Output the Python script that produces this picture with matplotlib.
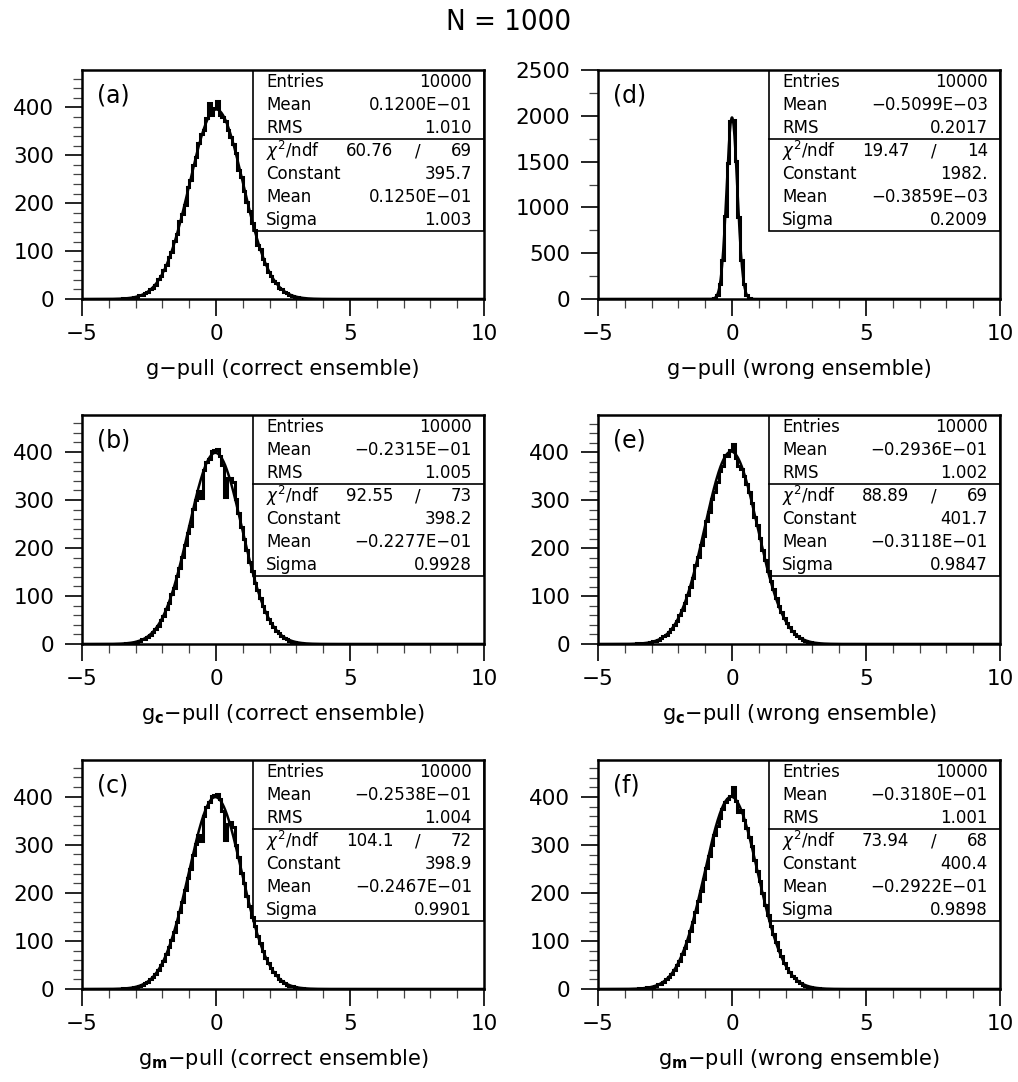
import numpy as np
import matplotlib
matplotlib.use('Agg')
import matplotlib.pyplot as plt
from matplotlib.patches import Rectangle
from matplotlib.ticker import MultipleLocator

plt.rcParams['font.family'] = ['DejaVu Sans']
plt.rcParams['mathtext.fontset'] = 'dejavusans'

# histogram: 150 bins of 0.1 between -5 and 10
x_lo, x_hi, nbins = -5.0, 10.0, 150
MINUS = '\u2212'

# counts for bins -4.0 .. 4.0 (80 bins), everything else is empty
counts_a = [0, 0, 1, 0, 1, 2, 1, 3, 2, 4, 5, 8, 9, 12, 14, 21, 24, 30, 41, 47,
            60, 70, 88, 99, 121, 136, 162, 178, 196, 233, 249, 279, 296, 325, 345, 352, 378, 409, 384, 398,
            413, 385, 380, 371, 352, 338, 324, 304, 270, 255, 226, 203, 183, 158, 143, 113, 104, 84, 74, 57,
            49, 37, 33, 23, 21, 14, 12, 8, 7, 5, 4, 3, 2, 1, 1, 1, 0, 0, 0, 0]
counts_b = [0, 1, 0, 1, 1, 1, 2, 2, 3, 3, 5, 6, 10, 11, 15, 19, 26, 31, 38, 50,
            58, 73, 86, 104, 117, 141, 158, 182, 207, 232, 246, 281, 300, 318, 305, 362, 380, 385, 403, 405,
            407, 392, 372, 306, 345, 346, 338, 302, 272, 243, 219, 196, 170, 152, 128, 112, 96, 79, 66, 53,
            44, 36, 28, 22, 17, 12, 10, 7, 5, 4, 3, 2, 1, 1, 1, 0, 0, 0, 0, 0]
counts_c = [0, 0, 1, 1, 1, 2, 1, 2, 3, 4, 4, 7, 9, 12, 15, 20, 25, 31, 39, 49,
            59, 72, 88, 102, 119, 140, 160, 180, 206, 230, 249, 279, 302, 320, 308, 360, 378, 388, 402, 404,
            405, 394, 370, 310, 343, 348, 336, 300, 274, 242, 220, 194, 172, 150, 130, 110, 95, 80, 65, 54,
            43, 35, 29, 21, 17, 13, 9, 7, 6, 4, 3, 2, 2, 1, 1, 0, 0, 0, 0, 0]
counts_e = [0, 1, 1, 0, 2, 1, 2, 3, 3, 4, 6, 6, 9, 12, 16, 19, 25, 32, 40, 48,
            60, 71, 85, 103, 120, 137, 165, 181, 207, 226, 256, 276, 303, 318, 338, 362, 371, 394, 392, 405,
            418, 388, 372, 366, 351, 335, 318, 294, 266, 248, 222, 197, 175, 153, 132, 114, 97, 80, 67, 55,
            43, 36, 27, 21, 17, 12, 9, 7, 5, 4, 3, 2, 1, 1, 0, 1, 0, 0, 0, 0]
counts_f = [0, 0, 1, 1, 1, 2, 2, 2, 4, 4, 5, 7, 10, 11, 15, 20, 24, 31, 39, 50,
            58, 73, 86, 101, 121, 139, 160, 183, 204, 229, 252, 278, 299, 321, 340, 357, 375, 390, 395, 401,
            420, 392, 368, 372, 352, 336, 316, 297, 269, 246, 224, 199, 176, 154, 131, 115, 98, 81, 68, 54,
            44, 35, 28, 22, 16, 13, 9, 7, 5, 4, 3, 2, 2, 1, 1, 0, 0, 0, 0, 0]
# narrow one: bins -0.8 .. 0.8 (16 bins)
counts_d = [2, 9, 47, 160, 431, 905, 1487, 1948, 1952, 1503, 898, 425, 161, 42, 11, 1]

first_bin = {'a': 10, 'b': 10, 'c': 10, 'd': 42, 'e': 10, 'f': 10}

panels = ['a', 'd', 'b', 'e', 'c', 'f']
panel_counts = {'a': counts_a, 'b': counts_b, 'c': counts_c,
                'd': counts_d, 'e': counts_e, 'f': counts_f}

xlabels = {
    'a': 'g' + MINUS + 'pull (correct ensemble)',
    'd': 'g' + MINUS + 'pull (wrong ensemble)',
    'b': r'g$_\mathbf{c}$' + MINUS + 'pull (correct ensemble)',
    'e': r'g$_\mathbf{c}$' + MINUS + 'pull (wrong ensemble)',
    'c': r'g$_\mathbf{m}$' + MINUS + 'pull (correct ensemble)',
    'f': r'g$_\mathbf{m}$' + MINUS + 'pull (wrong ensemble)',
}

entries = {'a': '10000', 'b': '10000', 'c': '10000', 'd': '10000', 'e': '10000', 'f': '10000'}
mean_txt = {'a': '0.1200E' + MINUS + '01', 'b': MINUS + '0.2315E' + MINUS + '01',
            'c': MINUS + '0.2538E' + MINUS + '01', 'd': MINUS + '0.5099E' + MINUS + '03',
            'e': MINUS + '0.2936E' + MINUS + '01', 'f': MINUS + '0.3180E' + MINUS + '01'}
rms_txt = {'a': '1.010', 'b': '1.005', 'c': '1.004', 'd': '0.2017', 'e': '1.002', 'f': '1.001'}
chi2 = {'a': '60.76', 'b': '92.55', 'c': '104.1', 'd': '19.47', 'e': '88.89', 'f': '73.94'}
ndf = {'a': '69', 'b': '73', 'c': '72', 'd': '14', 'e': '69', 'f': '68'}
const_txt = {'a': '395.7', 'b': '398.2', 'c': '398.9', 'd': '1982.', 'e': '401.7', 'f': '400.4'}
fmean_txt = {'a': '0.1250E' + MINUS + '01', 'b': MINUS + '0.2277E' + MINUS + '01',
             'c': MINUS + '0.2467E' + MINUS + '01', 'd': MINUS + '0.3859E' + MINUS + '03',
             'e': MINUS + '0.3118E' + MINUS + '01', 'f': MINUS + '0.2922E' + MINUS + '01'}
sigma_txt = {'a': '1.003', 'b': '0.9928', 'c': '0.9901', 'd': '0.2009', 'e': '0.9847', 'f': '0.9898'}

# fit parameters (numeric)
fit_const = {'a': 395.7, 'b': 398.2, 'c': 398.9, 'd': 1982.0, 'e': 401.7, 'f': 400.4}
fit_mean = {'a': 0.0125, 'b': -0.02277, 'c': -0.02467, 'd': -0.0003859, 'e': -0.03118, 'f': -0.02922}
fit_sigma = {'a': 1.003, 'b': 0.9928, 'c': 0.9901, 'd': 0.2009, 'e': 0.9847, 'f': 0.9898}

ytop = {'a': 478, 'b': 477, 'c': 476, 'd': 2500, 'e': 478, 'f': 477}

W, H = 1018, 1082
fig = plt.figure(figsize=(W / 100, H / 100), dpi=100)

col_x = [82, 598]
row_top = [70, 415, 760]
aw, ah = 402, 229

edges = np.linspace(x_lo, x_hi, nbins + 1)

for i, p in enumerate(panels):
    r, c = i // 2, i % 2
    ax = fig.add_axes([col_x[c] / W, 1 - (row_top[r] + ah) / H, aw / W, ah / H])

    h = np.zeros(nbins)
    cts = panel_counts[p]
    h[first_bin[p]:first_bin[p] + len(cts)] = cts
    ax.stairs(h, edges, color='black', lw=2.2, zorder=3)

    xf = np.linspace(x_lo, x_hi, 1500)
    yf = fit_const[p] * np.exp(-0.5 * ((xf - fit_mean[p]) / fit_sigma[p]) ** 2)
    ax.plot(xf, yf, color='black', lw=1.8, zorder=4)

    ax.set_xlim(x_lo, x_hi)
    ax.set_ylim(0, ytop[p])
    ax.xaxis.set_major_locator(MultipleLocator(5))
    ax.xaxis.set_minor_locator(MultipleLocator(1))
    if p == 'd':
        ax.yaxis.set_major_locator(MultipleLocator(500))
        ax.yaxis.set_minor_locator(MultipleLocator(250))
    else:
        ax.yaxis.set_major_locator(MultipleLocator(100))
        ax.yaxis.set_minor_locator(MultipleLocator(20))
    ax.tick_params(which='both', direction='out', top=False, right=False, labelsize=15.5)
    ax.tick_params(which='major', length=12, width=1.2)
    ax.tick_params(which='minor', length=6.5, width=0.9, color='#444444')
    ax.tick_params(axis='y', which='major', pad=8)
    ax.tick_params(axis='x', which='major', pad=6)
    for s in ax.spines.values():
        s.set_linewidth(1.8)

    ax.text(0.037, 0.89, '(%s)' % p, transform=ax.transAxes, fontsize=17,
            ha='left', va='center')

    # stats box
    bx, by = 0.425, 0.297
    ax.add_patch(Rectangle((bx, by), 1 - bx, 1 - by, transform=ax.transAxes,
                           fill=False, lw=1.2, color='black', zorder=5))
    ax.plot([bx, 1], [0.699, 0.699], transform=ax.transAxes, color='black', lw=1.2, zorder=5)
    rows = [('Entries', entries[p]), ('Mean', mean_txt[p]), ('RMS', rms_txt[p]),
            (r'$\chi^2$/ndf', None), ('Constant', const_txt[p]),
            ('Mean', fmean_txt[p]), ('Sigma', sigma_txt[p])]
    for k, (lab, val) in enumerate(rows):
        yy = 1 - 0.054 - 0.1004 * k
        ax.text(0.458, yy, lab, transform=ax.transAxes, fontsize=12, ha='left', va='center')
        if val is None:
            ax.text(0.774, yy, chi2[p], transform=ax.transAxes, fontsize=12, ha='right', va='center')
            ax.text(0.836, yy, '/', transform=ax.transAxes, fontsize=12, ha='center', va='center')
            ax.text(0.970, yy, ndf[p], transform=ax.transAxes, fontsize=12, ha='right', va='center')
        else:
            ax.text(0.970, yy, val, transform=ax.transAxes, fontsize=12, ha='right', va='center')

    ax.text(0.5, -0.305, xlabels[p], transform=ax.transAxes, fontsize=15,
            ha='center', va='center')

fig.text(0.5, 1 - 22 / H, 'N = 1000', ha='center', va='center', fontsize=21,
         fontstretch='condensed')

fig.savefig('out.png', dpi=100)
